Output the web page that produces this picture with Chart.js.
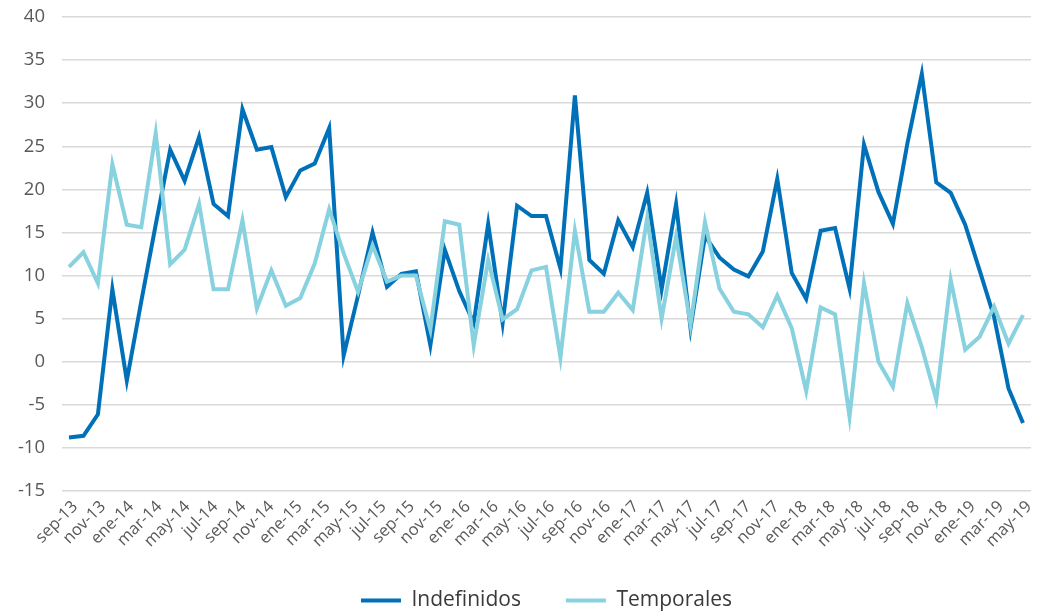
<!DOCTYPE html>
<html>
<head>
<meta charset="utf-8">
<script src="https://cdn.jsdelivr.net/npm/chart.js@4.4.1/dist/chart.umd.min.js"></script>
<style>
  html, body { margin: 0; padding: 0; background: #fff; }
</style>
</head>
<body>
<canvas id="chart" width="1044" height="614"></canvas>
<script>
// month labels on the axis (every second one is shown)
const months = [
  'sep-13','oct-13','nov-13','dic-13',
  'ene-14','feb-14','mar-14','abr-14','may-14','jun-14','jul-14','ago-14','sep-14','oct-14','nov-14','dic-14',
  'ene-15','feb-15','mar-15','abr-15','may-15','jun-15','jul-15','ago-15','sep-15','oct-15','nov-15','dic-15',
  'ene-16','feb-16','mar-16','abr-16','may-16','jun-16','jul-16','ago-16','sep-16','oct-16','nov-16','dic-16',
  'ene-17','feb-17','mar-17','abr-17','may-17','jun-17','jul-17','ago-17','sep-17','oct-17','nov-17','dic-17',
  'ene-18','feb-18','mar-18','abr-18','may-18','jun-18','jul-18','ago-18','sep-18','oct-18','nov-18','dic-18',
  'ene-19','feb-19','mar-19','abr-19','may-19'
];

// the plotted lines have 67 points, spread evenly under the same span
const indefinidos = [
  -8.8, -8.6, -6.1, 8.4, -2.2, 7.0, 15.9, 24.6, 21.0, 26.1,
  18.3, 16.9, 29.3, 24.6, 24.9, 19.1, 22.2, 23.0, 27.1, 0.7,
  7.7, 15.0, 8.7, 10.2, 10.5, 1.9, 13.0, 8.2, 4.5, 16.0,
  4.5, 18.1, 16.9, 16.9, 10.8, 30.9, 11.8, 10.2, 16.4, 13.3,
  19.6, 8.4, 18.3, 3.9, 14.6, 12.1, 10.7, 9.9, 12.8, 21.2,
  10.3, 7.3, 15.2, 15.5, 8.5, 25.2, 19.7, 16.0, 25.3, 33.4,
  20.8, 19.6, 15.9, 10.6, 5.2, -3.1, -7.1
];

const temporales = [
  11.0, 12.7, 9.1, 22.9, 15.9, 15.6, 26.5, 11.3, 13.0, 18.3,
  8.4, 8.4, 16.4, 6.2, 10.6, 6.5, 7.4, 11.4, 17.7, 12.6,
  8.1, 13.5, 9.3, 10.0, 10.0, 3.7, 16.3, 15.9, 1.9, 11.8,
  4.9, 6.1, 10.6, 11.0, 0.5, 15.2, 5.8, 5.8, 8.0, 6.0,
  16.7, 5.0, 14.5, 4.3, 16.2, 8.5, 5.8, 5.5, 4.0, 7.7,
  3.9, -3.4, 6.3, 5.5, -6.4, 9.1, 0.0, -2.9, 6.8, 1.7,
  -4.4, 9.5, 1.4, 2.9, 6.4, 2.1, 5.4
];

const yMin = -15;
const yMax = 40;
const yStep = 5;

const legendPad = 45;
const legendFont = 21;

// legend centred under the plot area, tick labels not clipped
const layoutFix = {
  id: 'layoutFix',
  afterLayout(chart) {
    const lg = chart.legend;
    lg.left = chart.chartArea.left;
    lg.right = chart.chartArea.right;
    lg.top += 7;
    lg.bottom += 7;
    chart.scales.x.bottom = chart.height;
  }
};

Chart.defaults.font.family = '"Open Sans", "Noto Sans", sans-serif';

const toPoints = (arr) => arr.map((v, i) => ({ x: i, y: v }));

const ctx = document.getElementById('chart').getContext('2d');
const chart = new Chart(ctx, {
  type: 'line',
  data: {
    datasets: [{
      label: 'Indefinidos',
      data: toPoints(indefinidos),
      xAxisID: 'xData',
      borderColor: '#0071B9',
      backgroundColor: '#0071B9',
      borderWidth: 4,
      pointRadius: 0,
      tension: 0,
      order: 1
    }, {
      label: 'Temporales',
      data: toPoints(temporales),
      xAxisID: 'xData',
      borderColor: '#88D1DF',
      backgroundColor: '#88D1DF',
      borderWidth: 4,
      pointRadius: 0,
      tension: 0,
      order: 0
    }]
  },
  options: {
    responsive: false,
    animation: false,
    layout: { padding: { left: 0, right: 13, top: 17, bottom: 0 } },
    plugins: {
      tooltip: { enabled: false },
      legend: {
        position: 'bottom',
        labels: {
          usePointStyle: true,
          pointStyle: 'line',
          pointStyleWidth: 40,
          padding: legendPad,
          color: '#3a3a3a',
          font: { size: legendFont },
          sort: (a, b) => a.datasetIndex - b.datasetIndex
        }
      }
    },
    scales: {
      x: {
        type: 'linear',
        position: 'bottom',
        min: -0.93,
        max: 68.14,
        grid: { display: false, drawTicks: false },
        border: { display: false },
        afterBuildTicks: (scale) => {
          scale.ticks = months.map((m, i) => ({ value: i })).filter((t) => t.value % 2 === 0);
        },
        ticks: {
          autoSkip: false,
          minRotation: 45,
          maxRotation: 45,
          padding: 6,
          color: '#595959',
          font: { size: 16.5 },
          callback: (v) => months[v]
        },
        afterFit: (scale) => {
          scale.height = 614 - 491 - (legendFont + legendPad + 10);
          scale.paddingLeft = 0;
          scale.paddingRight = 0;
        }
      },
      xData: {
        type: 'linear',
        display: false,
        min: -0.484,
        max: 66.554
      },
      y: {
        min: yMin,
        max: yMax,
        grid: { color: '#d9d9d9', lineWidth: 1.5, drawTicks: false },
        border: { display: false },
        ticks: {
          stepSize: yStep,
          padding: 17,
          color: '#595959',
          font: { size: 18.5 },
          callback: (v) => String(v)
        },
        afterFit: (scale) => {
          scale.width = 62;
          scale.paddingTop = 0;
          scale.paddingBottom = 0;
        }
      }
    }
  },
  plugins: [layoutFix]
});
</script>
</body>
</html>
